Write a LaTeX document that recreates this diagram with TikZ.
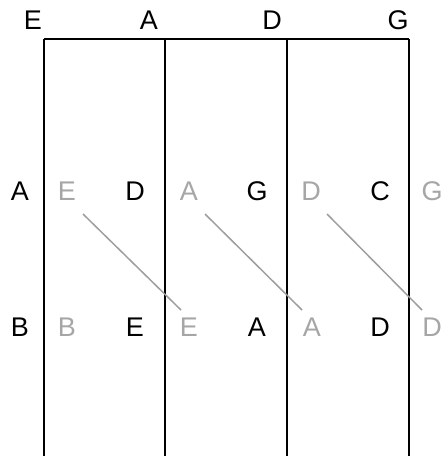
\documentclass[tikz,border=0pt]{standalone}
\usepackage{fontspec}
\setmainfont{Liberation Sans}
\begin{document}
\begin{tikzpicture}[x=1pt,y=-1pt,
  lbl/.style={font=\fontsize{27}{31}\selectfont, text=black, inner sep=0pt, anchor=base},
  glbl/.style={lbl, text=black!35},
  wall/.style={line width=2pt, black},
  link/.style={line width=1.5pt, black!38}]
\useasboundingbox (0,0) rectangle (447,456);
% frame
\coordinate (t0) at (44,39); \coordinate (t1) at (165,39);
\coordinate (t2) at (287,39); \coordinate (t3) at (409,39);
\coordinate (b0) at (44,457); \coordinate (b1) at (165,457);
\coordinate (b2) at (287,457); \coordinate (b3) at (409,457);
\draw[wall] (t0) -- (t3);
\draw[wall] (t0) -- (b0);
\draw[wall] (t1) -- (b1);
\draw[wall] (t2) -- (b2);
\draw[wall] (t3) -- (b3);
% top labels
\node[lbl] (hE) at (33,29) {E};
\node[lbl] (hA) at (149,29) {A};
\node[lbl] (hD) at (272,29) {D};
\node[lbl] (hG) at (398,29) {G};
% row 1
\node[lbl] (r1a) at (20,200) {A};
\node[glbl] (r1b) at (67,200) {E};
\node[lbl] (r1c) at (135,200) {D};
\node[glbl] (r1d) at (189,200) {A};
\node[lbl] (r1e) at (257,200) {G};
\node[glbl] (r1f) at (311,200) {D};
\node[lbl] (r1g) at (380,200) {C};
\node[glbl] (r1h) at (432,200) {G};
% row 2
\node[lbl] (r2a) at (20,336) {B};
\node[glbl] (r2b) at (67,336) {B};
\node[lbl] (r2c) at (135,336) {E};
\node[glbl] (r2d) at (189,336) {E};
\node[lbl] (r2e) at (257,336) {A};
\node[glbl] (r2f) at (312,336) {A};
\node[lbl] (r2g) at (380,336) {D};
\node[glbl] (r2h) at (432,336) {D};
% links
\coordinate (l1s) at (83,214); \coordinate (l1e) at (181,310);
\coordinate (l2s) at (205,214); \coordinate (l2e) at (302,310);
\coordinate (l3s) at (327,214); \coordinate (l3e) at (422,310);
\draw[link] (l1s) -- (l1e);
\draw[link] (l2s) -- (l2e);
\draw[link] (l3s) -- (l3e);
\end{tikzpicture}
\end{document}
